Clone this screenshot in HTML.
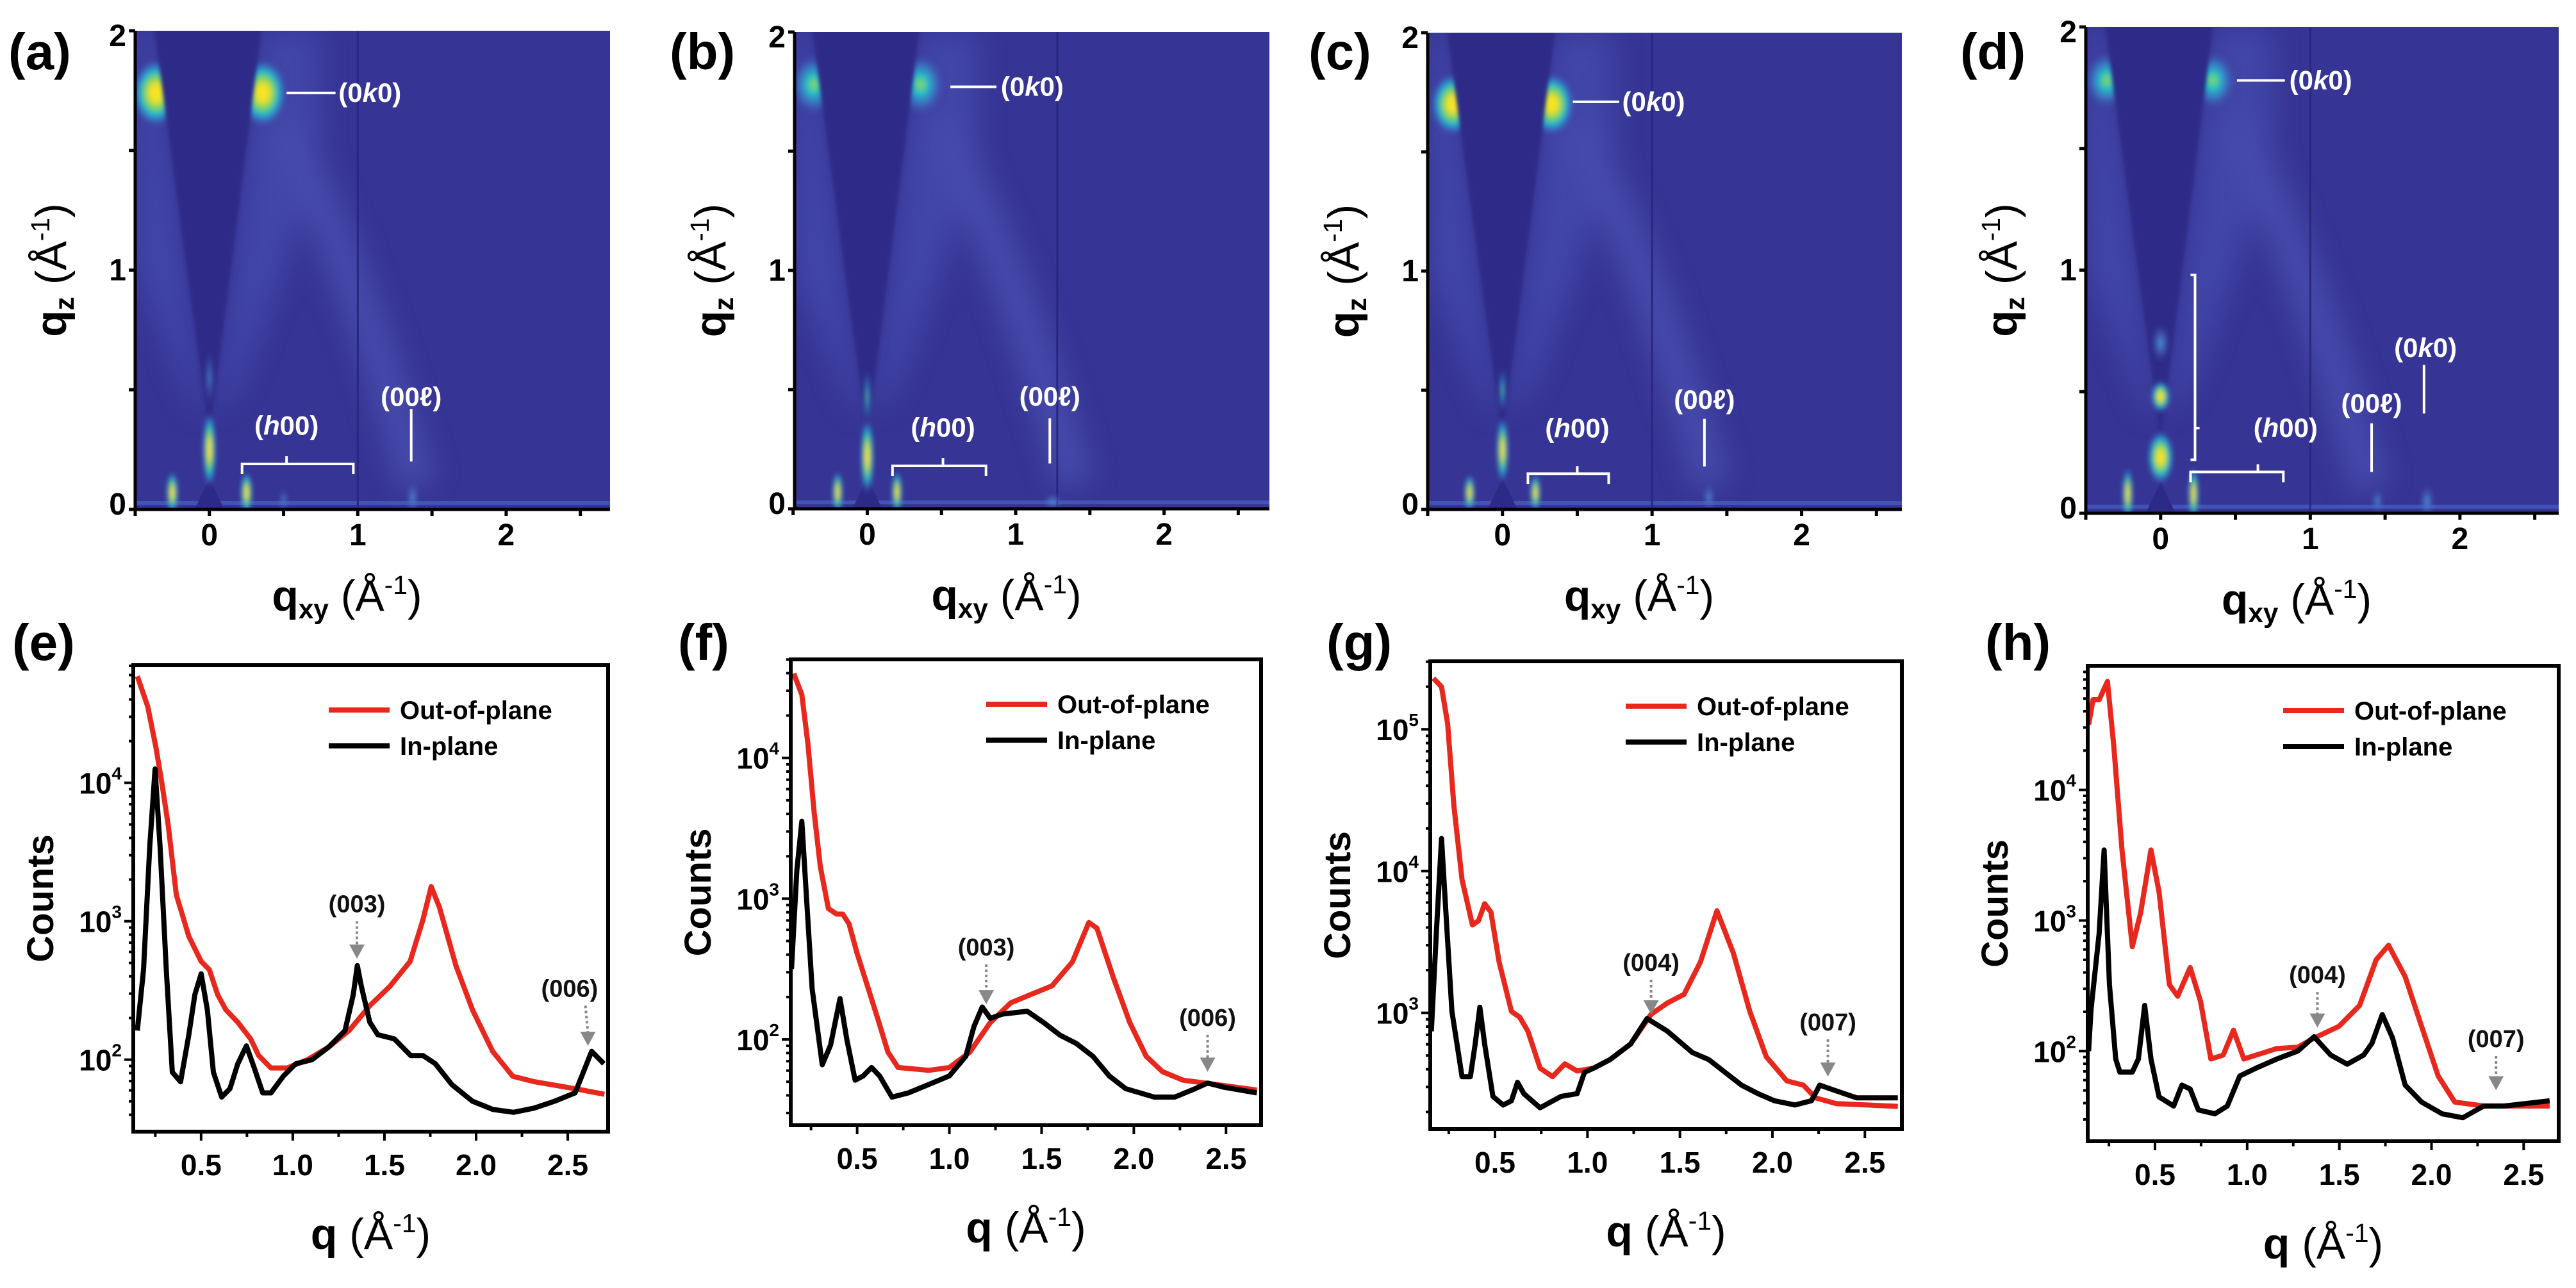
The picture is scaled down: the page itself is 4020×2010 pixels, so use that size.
<!DOCTYPE html>
<html><head><meta charset="utf-8">
<style>
html,body{margin:0;padding:0;background:#fff;}
svg{display:block;font-family:"Liberation Sans",Arial,sans-serif;}
</style></head>
<body>
<svg id="fig" xmlns="http://www.w3.org/2000/svg" width="4020" height="2010" viewBox="0 0 4020 2010">
<defs>
<radialGradient id="spotHot"><stop offset="0" stop-color="#fbe81c"/><stop offset="0.25" stop-color="#f2e02a"/><stop offset="0.45" stop-color="#7fd45a"/><stop offset="0.65" stop-color="#1fb8d0"/><stop offset="0.85" stop-color="#3a78cc" stop-opacity="0.6"/><stop offset="1" stop-color="#3a3a9a" stop-opacity="0"/></radialGradient>
<radialGradient id="spotMid"><stop offset="0" stop-color="#9bd84a"/><stop offset="0.3" stop-color="#22c2c8"/><stop offset="0.65" stop-color="#3a86d0" stop-opacity="0.6"/><stop offset="1" stop-color="#3a3a9a" stop-opacity="0"/></radialGradient>
<radialGradient id="spotWeak"><stop offset="0" stop-color="#4aa0dc"/><stop offset="0.6" stop-color="#4a6cc4" stop-opacity="0.5"/><stop offset="1" stop-color="#3a3a9a" stop-opacity="0"/></radialGradient>
<filter id="blurS" x="-50%" y="-50%" width="200%" height="200%"><feGaussianBlur stdDeviation="4"/></filter>
<filter id="blurL" x="-50%" y="-50%" width="200%" height="200%"><feGaussianBlur stdDeviation="22"/></filter>
<filter id="blurC" x="-10%" y="-10%" width="120%" height="120%"><feGaussianBlur stdDeviation="3"/></filter>
</defs>
</svg>
<script>
// ---------- GIWAXS map data (qxy, qz in 1/Å) ----------
const mapPanels = ['a','b','c','d'];
const mapSpotsA = [[-0.36,1.74,0.16,0.14,1],[0.36,1.74,0.16,0.14,1],[0,0.25,0.045,0.16,1],[0,0.55,0.025,0.12,0.4],[-0.25,0.07,0.04,0.09,1],[0.25,0.07,0.04,0.09,1],[0.5,0.04,0.025,0.05,0.2],[1.37,0.05,0.035,0.07,0.3]];
const mapSpotsB = [[-0.36,1.78,0.16,0.13,0.6],[0.36,1.78,0.16,0.13,0.6],[0,0.22,0.045,0.16,1],[0,0.47,0.02,0.12,0.5],[-0.2,0.07,0.035,0.09,1],[0.2,0.07,0.035,0.09,1],[1.25,0.03,0.06,0.03,0.2]];
const mapSpotsC = [[-0.33,1.7,0.15,0.13,1],[0.33,1.7,0.15,0.13,1],[0,0.25,0.04,0.14,1],[0,0.5,0.02,0.1,0.5],[-0.22,0.07,0.035,0.08,1],[0.22,0.07,0.035,0.08,1],[1.38,0.05,0.035,0.06,0.25]];
const mapSpotsD = [[-0.36,1.78,0.15,0.12,0.55],[0.35,1.78,0.15,0.12,0.55],[0,0.23,0.09,0.11,1],[0,0.48,0.065,0.065,1],[0,0.7,0.06,0.08,0.35],[-0.22,0.08,0.035,0.11,1],[0.22,0.08,0.035,0.11,1],[1.78,0.05,0.045,0.07,0.3],[1.45,0.05,0.035,0.05,0.2]];
const mapDetectorGap = [1.0, 1.28, 1.0, 1.0];
const mapXTicks = [0,1,2];
const mapYTicks = [0,1,2];

// ---------- 1D line-cut data (q in 1/Å, log10 counts) ----------
const cutPanels = ['e','f','g','h'];
const qOutE = [0.152,0.209,0.253,0.287,0.321,0.365,0.433,0.5,0.545,0.59,0.635,0.70,0.77,0.814,0.88,0.97,1.08,1.195,1.307,1.42,1.53,1.64,1.71,1.755,1.80,1.89,1.98,2.09,2.20,2.32,2.54,2.70];
const logOutE = [4.77,4.55,4.26,3.99,3.69,3.19,2.89,2.71,2.65,2.47,2.36,2.27,2.15,2.03,1.94,1.94,2.0,2.09,2.21,2.39,2.53,2.71,3.01,3.25,3.10,2.68,2.36,2.06,1.88,1.84,1.79,1.75];
const qInE = [0.152,0.186,0.22,0.249,0.276,0.31,0.343,0.388,0.433,0.466,0.5,0.534,0.567,0.612,0.657,0.70,0.747,0.79,0.836,0.881,0.948,1.016,1.105,1.195,1.285,1.33,1.352,1.374,1.42,1.464,1.554,1.643,1.71,1.778,1.868,1.98,2.092,2.204,2.316,2.428,2.54,2.585,2.63,2.697];
const logInE = [2.21,2.65,3.54,4.10,3.54,2.65,1.91,1.84,2.18,2.47,2.62,2.36,1.91,1.73,1.79,1.97,2.10,1.94,1.76,1.76,1.88,1.97,2.0,2.09,2.21,2.47,2.68,2.53,2.27,2.18,2.15,2.03,2.03,1.97,1.82,1.70,1.64,1.62,1.65,1.70,1.76,1.91,2.06,1.97];
const qOutF = [0.156,0.2,0.233,0.267,0.3,0.344,0.389,0.422,0.456,0.5,0.556,0.611,0.667,0.722,0.889,1.0,1.111,1.222,1.333,1.444,1.556,1.667,1.756,1.80,1.889,1.978,2.067,2.156,2.267,2.444,2.667];
const logOutF = [4.60,4.45,4.10,3.61,3.23,2.93,2.89,2.89,2.82,2.61,2.38,2.15,1.91,1.80,1.78,1.80,1.91,2.12,2.26,2.32,2.38,2.55,2.83,2.79,2.44,2.12,1.88,1.77,1.71,1.68,1.64];
const qInF = [0.144,0.173,0.2,0.222,0.256,0.311,0.356,0.407,0.444,0.489,0.533,0.578,0.622,0.689,0.778,0.889,1.0,1.089,1.133,1.178,1.222,1.289,1.422,1.511,1.6,1.689,1.778,1.867,1.956,2.111,2.222,2.333,2.4,2.489,2.667];
const logInF = [2.5,3.2,3.55,3.08,2.36,1.82,1.96,2.29,2.0,1.71,1.74,1.80,1.74,1.59,1.62,1.68,1.74,1.88,2.09,2.23,2.15,2.18,2.20,2.12,2.03,1.97,1.88,1.74,1.65,1.59,1.59,1.65,1.69,1.66,1.62];
const qOutG = [0.167,0.211,0.244,0.278,0.322,0.378,0.411,0.444,0.478,0.522,0.589,0.633,0.678,0.744,0.811,0.878,0.944,1.033,1.122,1.233,1.344,1.433,1.522,1.611,1.7,1.789,1.878,1.967,2.078,2.167,2.233,2.344,2.678];
const logOutG = [5.36,5.30,5.04,4.46,3.94,3.62,3.65,3.77,3.71,3.36,3.01,2.97,2.87,2.61,2.55,2.64,2.59,2.61,2.67,2.78,2.99,3.07,3.13,3.36,3.72,3.42,3.01,2.69,2.52,2.49,2.40,2.36,2.34];
const qInG = [0.156,0.184,0.211,0.233,0.267,0.322,0.367,0.393,0.418,0.444,0.489,0.544,0.589,0.622,0.656,0.744,0.856,0.944,0.984,1.033,1.122,1.233,1.322,1.433,1.567,1.656,1.744,1.833,1.922,2.011,2.122,2.211,2.256,2.322,2.456,2.678];
const logInG = [2.87,3.59,4.23,3.74,3.01,2.55,2.55,2.78,3.04,2.78,2.41,2.35,2.38,2.51,2.43,2.33,2.41,2.43,2.58,2.61,2.67,2.78,2.96,2.87,2.72,2.67,2.58,2.49,2.43,2.38,2.35,2.38,2.49,2.46,2.40,2.40];
const qOutH = [0.14,0.164,0.197,0.242,0.276,0.321,0.377,0.422,0.478,0.522,0.578,0.623,0.691,0.747,0.803,0.87,0.926,0.982,1.049,1.161,1.274,1.363,1.498,1.61,1.70,1.767,1.857,1.946,2.036,2.126,2.283,2.395,2.641];
const logOutH = [4.50,4.69,4.69,4.83,4.34,3.54,2.80,3.06,3.54,3.22,2.51,2.42,2.64,2.38,1.94,1.97,2.16,1.94,1.97,2.02,2.03,2.10,2.19,2.35,2.70,2.81,2.57,2.19,1.81,1.61,1.58,1.58,1.58];
const qInH = [0.14,0.153,0.197,0.224,0.253,0.287,0.309,0.377,0.41,0.444,0.478,0.522,0.601,0.646,0.691,0.735,0.825,0.892,0.96,1.049,1.161,1.274,1.363,1.453,1.543,1.632,1.677,1.733,1.789,1.857,1.946,2.058,2.17,2.283,2.395,2.641];
const logInH = [2.0,2.32,2.90,3.54,2.51,1.94,1.84,1.84,1.94,2.35,1.94,1.65,1.58,1.74,1.71,1.55,1.52,1.58,1.81,1.87,1.94,2.0,2.11,1.97,1.90,1.97,2.06,2.28,2.10,1.74,1.61,1.52,1.49,1.58,1.58,1.62];
const cutXTicks = [0.5,1.0,1.5,2.0,2.5];
const cutXTickLabels = ['0.5','1.0','1.5','2.0','2.5'];
const cutPeakLabelsE = [['(003)',1.35,3.13,2.73],['(006)',2.51,2.52,2.10,2.61]];
const cutPeakLabelsF = [['(003)',1.2,2.66,2.25],['(006)',2.4,2.16,1.77]];
const cutPeakLabelsG = [['(004)',1.344,3.36,2.99],['(007)',2.3,2.94,2.55]];
const cutPeakLabelsH = [['(004)',1.381,2.59,2.18],['(007)',2.35,2.10,1.70]];

const NS='http://www.w3.org/2000/svg';
const svg=document.getElementById('fig');
function mk(tag,attrs,parent){const e=document.createElementNS(NS,tag);for(const k in attrs)e.setAttribute(k,attrs[k]);(parent||svg).appendChild(e);return e;}
function sx(p,q){return p.x0+(q-p.xmin)/(p.xmax-p.xmin)*(p.x1-p.x0);}
function sy(p,v){return p.y1-(v-p.ymin)/(p.ymax-p.ymin)*(p.y1-p.y0);}
function unitLabel(t,prefix,sub){
  const a=mk('tspan',{'font-weight':'bold'},t);a.textContent=prefix;
  if(sub){const s=mk('tspan',{'font-weight':'bold','font-size':'0.62em',dy:'12'},t);s.textContent=sub;}
  const b=mk('tspan',{'font-weight':'normal',dy:sub?'-12':'0'},t);b.textContent=' (Å';
  const c=mk('tspan',{'font-size':'0.6em',dy:'-26'},t);c.textContent='-1';
  const d=mk('tspan',{dy:'26'},t);d.textContent=')';
}

// ---------- Top: 2D maps ----------
const mapFrames=[
 {x0:211,x1:952,y0:48,y1:795,xmin:-0.5,xmax:2.7,lx:13},
 {x0:1240,x1:1981,y0:50,y1:794,xmin:-0.49,xmax:2.71,lx:1045},
 {x0:2228,x1:2968,y0:51,y1:795,xmin:-0.5,xmax:2.67,lx:2042},
 {x0:3255,x1:3993,y0:42,y1:801,xmin:-0.5,xmax:2.66,lx:3059}];
const mapSpots=[mapSpotsA,mapSpotsB,mapSpotsC,mapSpotsD];
mapFrames.forEach((p,i)=>{
  p.ymin=0;p.ymax=2;
  const g=mk('g',{});
  
  
  const cp=mk('clipPath',{id:'clip'+i},g);
  mk('rect',{x:p.x0,y:p.y0,width:p.x1-p.x0,height:p.y1-p.y0},cp);
  const hm=mk('g',{'clip-path':'url(#clip'+i+')'},g);
  
  
  mk('rect',{x:p.x0,y:p.y0,width:p.x1-p.x0,height:p.y1-p.y0,fill:'#363494'},hm);
  const glow=mk('g',{filter:'url(#blurL)',opacity:'0.45'},hm);
  mk('polygon',{points:[[0.34,2],[0.75,2],[0.75,1.5],[0.5,1.0],[0.2,0.5],[0.05,0.4]].map(a=>sx(p,a[0])+','+sy(p,a[1])).join(' '),fill:'#4f5cc0'},glow);
  mk('polygon',{points:[[-0.36,2],[-0.5,2],[-0.5,1.0],[-0.1,0.4],[-0.05,0.4]].map(a=>sx(p,a[0])+','+sy(p,a[1])).join(' '),fill:'#4f5cc0'},glow);
  mk('path',{d:'M'+sx(p,0.5)+','+sy(p,1.6)+' Q'+sx(p,1.0)+','+sy(p,1.0)+' '+sx(p,1.4)+','+sy(p,0.1),stroke:'#5a66c6','stroke-width':'60',fill:'none'},glow);
  mk('rect',{x:p.x0,y:sy(p,0.035),width:p.x1-p.x0,height:6,fill:'#4a6acc',opacity:'0.6'},hm);
  const sgHigh=mk('g',{filter:'url(#blurS)'},hm);
  const cone=mk('polygon',{points:[[0,0.3],[-0.38,2.05],[0.36,2.05]].map(a=>sx(p,a[0])+','+sy(p,a[1])).join(' '),fill:'#2d2a87',filter:'url(#blurC)'},hm);
  
  
  mk('polygon',{points:[[-0.1,0],[0,0.13],[0.1,0]].map(a=>sx(p,a[0])+','+sy(p,a[1])).join(' '),fill:'#2d2a87'},hm);
  const gap=mk('line',{x1:sx(p,mapDetectorGap[i]),x2:sx(p,mapDetectorGap[i]),y1:p.y0,y2:p.y1,stroke:'#2a2680','stroke-width':'3'},hm);
  
  
  const sg=mk('g',{filter:'url(#blurS)'},hm);
  mapSpots[i].forEach(s=>{
    const rx=s[2]/(p.xmax-p.xmin)*(p.x1-p.x0), ry=s[3]/(p.ymax-p.ymin)*(p.y1-p.y0);
    const e=mk('ellipse',{cx:sx(p,s[0]),cy:sy(p,s[1]),rx:rx,ry:ry,fill:s[4]>0.8?'url(#spotHot)':(s[4]>0.45?'url(#spotMid)':'url(#spotWeak)')},s[1]>1?sgHigh:sg);
    
    
  });
  const ax=mk('g',{stroke:'#000','stroke-width':'5'},g);
  
  
  mk('line',{x1:p.x0,x2:p.x1,y1:p.y1,y2:p.y1},ax);
  mk('line',{x1:p.x0,x2:p.x0,y1:p.y0,y2:p.y1},ax);
  for(let q=-0.5;q<=2.51;q+=0.5) mk('line',{x1:sx(p,q),x2:sx(p,q),y1:p.y1,y2:p.y1+10},ax);
  for(let v=0;v<=2.01;v+=0.5) mk('line',{x1:p.x0,x2:p.x0-10,y1:sy(p,v),y2:sy(p,v)},ax);
  mapXTicks.forEach(t=>{const tx=mk('text',{x:sx(p,t),y:p.y1+56,'text-anchor':'middle','font-size':'48','font-weight':'bold'},g);tx.textContent=t;
    });
  mapYTicks.forEach(t=>{const tx=mk('text',{x:p.x0-14,y:sy(p,t)+(t===2?24:t===0?8:16),'text-anchor':'end','font-size':'48','font-weight':'bold'},g);tx.textContent=t;
    });
  const xt=mk('text',{x:(p.x0+p.x1)/2-40,y:p.y1+158,'text-anchor':'middle','font-size':'68'},g);
  unitLabel(xt,'q','xy');
  
  
  const yt=mk('text',{transform:'translate('+(p.x0-108)+','+((p.y0+p.y1)/2)+') rotate(-90)','text-anchor':'middle','font-size':'68'},g);
  unitLabel(yt,'q','z');
  
  
  const pl=mk('text',{x:p.lx,y:108,'font-size':'80','font-weight':'bold'},g);
  pl.textContent='('+mapPanels[i]+')';
  
  
});
function annText(p,q,qz,parts,anchor,name){
  const t=mk('text',{x:sx(p,q),y:sy(p,qz)+14,'text-anchor':anchor,'font-size':'42','font-weight':'bold',fill:'#fff'});
  parts.forEach(pt=>{const s=mk('tspan',pt[1]?{'font-style':'italic'}:{},t);s.textContent=pt[0];});
  
  
}
function annLine(p,a,b,c,d){const l=mk('line',{x1:sx(p,a),y1:sy(p,b),x2:sx(p,c),y2:sy(p,d),stroke:'#fff','stroke-width':'4'});
  }
function hBracket(p,qa,qb,qz,mid){const y=sy(p,qz);const m=sx(p,mid);
  const b=mk('path',{d:'M'+sx(p,qa)+','+(y+16)+' V'+y+' H'+sx(p,qb)+' V'+(y+16)+' M'+m+','+y+' V'+(y-12),stroke:'#fff','stroke-width':'4',fill:'none'});
  }
const annK=[[0.52,0.85,1.74,0.87],[0.56,0.87,1.77,0.9],[0.47,0.78,1.71,0.8],[0.51,0.83,1.78,0.86]];
const annH=[[0.22,0.97,0.19,0.52,0.35],[0.17,0.80,0.18,0.51,0.34],[0.17,0.71,0.15,0.5,0.34],[0.2,0.82,0.17,0.65,0.35]];
const annL=[[1.36,0.2,0.42,0.47],[1.23,0.19,0.38,0.47],[1.35,0.18,0.38,0.46],[1.41,0.17,0.37,0.45]];
mapFrames.forEach((p,i)=>{
  annLine(p,annK[i][0],annK[i][2],annK[i][1],annK[i][2]);
  annText(p,annK[i][3],annK[i][2],[['(0'],['k',1],['0)']],'start','label-0k0');
  hBracket(p,annH[i][0],annH[i][1],annH[i][2],annH[i][3]);
  annText(p,i===3?0.62:annH[i][3],annH[i][4],[['('],['h',1],['00)']],i===3?'start':'middle','label-h00');
  annLine(p,annL[i][0],annL[i][1],annL[i][0],annL[i][2]);
  annText(p,annL[i][0],annL[i][3],[['(00ℓ)']],'middle','label-00l');
});
(function(){const p=mapFrames[3];
  const b=mk('path',{d:'M'+(sx(p,0.2))+','+sy(p,0.98)+' H'+sx(p,0.23)+' V'+sy(p,0.22)+' H'+sx(p,0.2)+' M'+sx(p,0.23)+','+sy(p,0.35)+' H'+sx(p,0.26),stroke:'#fff','stroke-width':'4',fill:'none'});
  
  annLine(p,1.76,0.41,1.76,0.61);
  annText(p,1.77,0.68,[['(0'],['k',1],['0)']],'middle','label-0k0-second');
})();

// ---------- Bottom: line cuts ----------
const cutFrames=[
 {x0:208,x1:949,y0:1038,y1:1766,xmin:0.13,xmax:2.72,ymin:1.48,ymax:4.85,lx:19,dec:[2,3,4]},
 {x0:1234,x1:1968,y0:1029,y1:1756,xmin:0.14,xmax:2.69,ymin:1.39,ymax:4.70,lx:1058,dec:[2,3,4]},
 {x0:2232,x1:2968,y0:1032,y1:1762,xmin:0.15,xmax:2.70,ymin:2.18,ymax:5.48,lx:2070,dec:[3,4,5]},
 {x0:3258,x1:3993,y0:1039,y1:1781,xmin:0.135,xmax:2.69,ymin:1.31,ymax:4.95,lx:3098,dec:[2,3,4]}];
const cutOut=[[qOutE,logOutE],[qOutF,logOutF],[qOutG,logOutG],[qOutH,logOutH]];
const cutIn=[[qInE,logInE],[qInF,logInF],[qInG,logInG],[qInH,logInH]];
const cutPeaks=[cutPeakLabelsE,cutPeakLabelsF,cutPeakLabelsG,cutPeakLabelsH];
cutFrames.forEach((p,i)=>{
  const g=mk('g',{});
  
  
  const cp=mk('clipPath',{id:'cclip'+i},g);
  mk('rect',{x:p.x0,y:p.y0,width:p.x1-p.x0,height:p.y1-p.y0},cp);
  const pg=mk('g',{'clip-path':'url(#cclip'+i+')'},g);
  function path(arr,color,name){
    const d=arr[0].map((q,k)=>(k?'L':'M')+sx(p,q).toFixed(1)+','+sy(p,arr[1][k]).toFixed(1)).join(' ');
    const l=mk('path',{d:d,stroke:color,'stroke-width':'8',fill:'none','stroke-linejoin':'round'},pg);
    
    
  }
  path(cutOut[i],'#e8271d','out-of-plane-line');
  path(cutIn[i],'#000','in-plane-line');
  const fr=mk('rect',{x:p.x0,y:p.y0,width:p.x1-p.x0,height:p.y1-p.y0,fill:'none',stroke:'#000','stroke-width':'6'},g);
  
  
  const ax=mk('g',{stroke:'#000','stroke-width':'4'},g);
  for(let q=0.25;q<p.xmax;q+=0.25) mk('line',{x1:sx(p,q),x2:sx(p,q),y1:p.y1,y2:p.y1+(Math.abs(q*2-Math.round(q*2))<0.01?14:8)},ax);
  for(let dcd=Math.floor(p.ymin);dcd<p.ymax;dcd++){for(let m=1;m<10;m++){const v=dcd+Math.log10(m);if(v<p.ymin||v>p.ymax)continue;
    mk('line',{x1:p.x0,x2:p.x0-(m===1?14:7),y1:sy(p,v),y2:sy(p,v)},ax);}}
  cutXTicks.forEach((t,k)=>{const tx=mk('text',{x:sx(p,t),y:p.y1+68,'text-anchor':'middle','font-size':'46','font-weight':'bold'},g);tx.textContent=cutXTickLabels[k];
    });
  p.dec.forEach(dv=>{const tx=mk('text',{x:p.x0-18,y:sy(p,dv)+17,'text-anchor':'end','font-size':'46','font-weight':'bold'},g);
    const a=mk('tspan',{},tx);a.textContent='10';const b=mk('tspan',{'font-size':'28',dy:'-22'},tx);b.textContent=dv;
    });
  const yt=mk('text',{transform:'translate('+(p.x0-125)+','+((p.y0+p.y1)/2)+') rotate(-90)','text-anchor':'middle','font-size':'58','font-weight':'bold'},g);
  yt.textContent='Counts';
  
  
  const xt=mk('text',{x:(p.x0+p.x1)/2,y:p.y1+183,'text-anchor':'middle','font-size':'68'},g);
  unitLabel(xt,'q',null);
  
  
  const pl=mk('text',{x:p.lx,y:1030,'font-size':'80','font-weight':'bold'},g);
  pl.textContent='('+cutPanels[i]+')';
  
  
  const lg=mk('g',{},g);
  
  
  [['Out-of-plane','#e8271d',70],['In-plane','#000',126]].forEach(e=>{
    const ln=mk('line',{x1:p.x0+305,x2:p.x0+400,y1:p.y0+e[2],y2:p.y0+e[2],stroke:e[1],'stroke-width':'8'},lg);
    
    const t=mk('text',{x:p.x0+416,y:p.y0+e[2]+14,'font-size':'40','font-weight':'bold'},lg);t.textContent=e[0];
    
  });
  cutPeaks[i].forEach(pk=>{
    const tq=pk[4]!==undefined?pk[4]:pk[1];
    const t=mk('text',{x:sx(p,pk[1]),y:sy(p,pk[2])+14,'text-anchor':'middle','font-size':'38','font-weight':'bold',fill:'#111'},g);t.textContent=pk[0];
    
    const ar=mk('line',{x1:sx(p,tq)-(tq-pk[1])*40,y1:sy(p,pk[2])+28,x2:sx(p,tq),y2:sy(p,pk[3])-20,stroke:'#888','stroke-width':'4','stroke-dasharray':'4 4'},g);
    
    const hd=mk('polygon',{points:(sx(p,tq)-12)+','+(sy(p,pk[3])-22)+' '+(sx(p,tq)+12)+','+(sy(p,pk[3])-22)+' '+sx(p,tq)+','+(sy(p,pk[3])),fill:'#888'},g);
    
  });
});
</script>
</body></html>
